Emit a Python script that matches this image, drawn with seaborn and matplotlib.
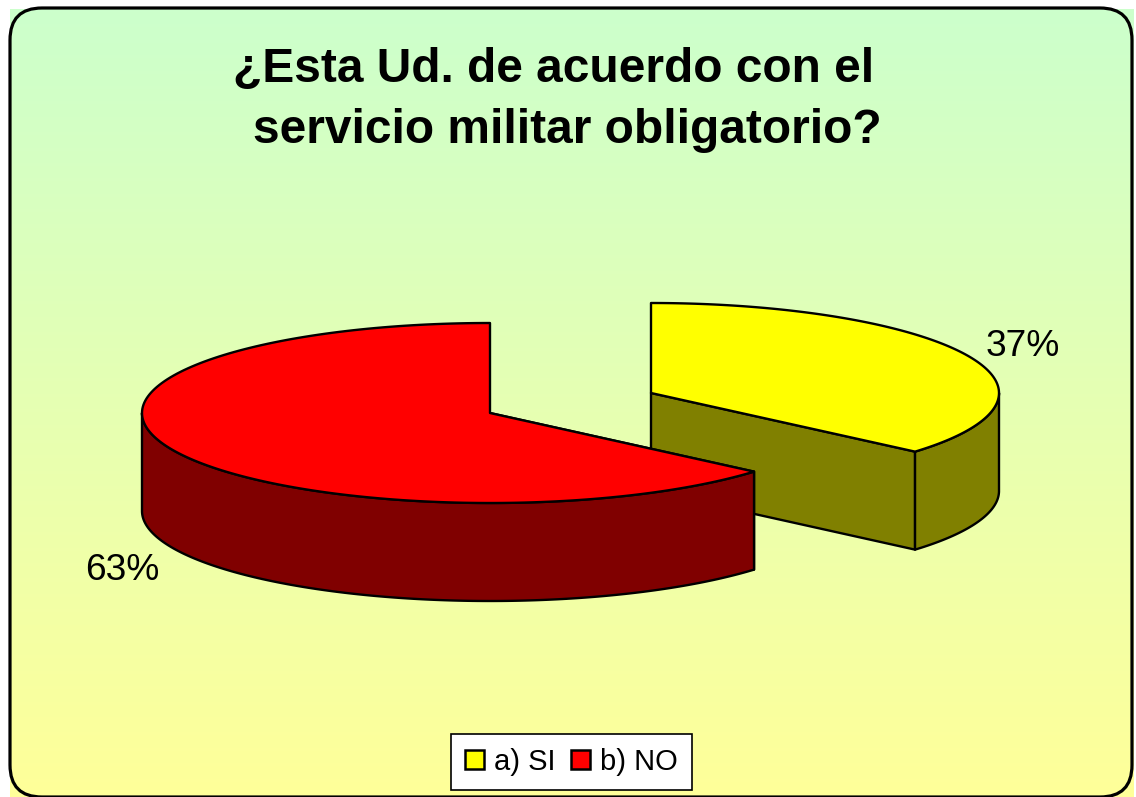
import numpy as np
import seaborn as sns
import matplotlib
matplotlib.use("Agg")
import matplotlib.pyplot as plt
from matplotlib.patches import Polygon, Patch, FancyBboxPatch

categories = ["a) SI", "b) NO"]
shares = [37, 63]
share_labels = ["37%", "63%"]
title_lines = ["¿Esta Ud. de acuerdo con el", "servicio militar obligatorio?"]

top_colors = sns.color_palette(["#FFFF00", "#FF0000"])
wall_colors = sns.color_palette(["#808000", "#800000"])

sns.set_theme(style="white")
plt.rcParams["font.family"] = ["Liberation Sans", "DejaVu Sans"]

fig = plt.figure(figsize=(11.36, 7.97), dpi=100, facecolor="white")
ax = fig.add_axes([0, 0, 1, 1])
ax.set_xlim(0, 1136)
ax.set_ylim(797, 0)
ax.axis("off")

# gradient background
cmap = sns.blend_palette(["#CCFFCC", "#FFFF99"], 256, as_cmap=True)
ax.imshow(np.linspace(0, 1, 256)[:, None], cmap=cmap, aspect="auto",
          extent=(10, 1134, 797, 9), zorder=0)
ax.set_xlim(0, 1136)
ax.set_ylim(797, 0)
ax.add_patch(FancyBboxPatch((41, 39), 1060, 727, boxstyle="round,pad=31,rounding_size=32",
                            fc="none", ec="black", lw=2.3, zorder=1))

A, B, DEPTH = 348.0, 90.0, 98.0


def warp(theta):
    return theta - np.radians(3.5) * np.sin(theta)


def rim(cx, cy, t0, t1, n=180):
    t = np.linspace(t0, t1, n)
    return np.column_stack([cx + A * np.sin(t), cy - B * np.cos(t)])


def draw_slice(cx, cy, t0, t1, top, wall, z):
    edge = dict(ec="black", lw=1.7, joinstyle="round")
    drop = np.array([0, DEPTH])
    # cut faces
    for t in (t0, t1):
        p = rim(cx, cy, t, t, 1)[0]
        c = np.array([cx, cy])
        if p[1] >= cy - 1e-6 or np.sin(t) > 0:
            ax.add_patch(Polygon([c, p, p + drop, c + drop], fc=wall, zorder=z, **edge))
    # outer wall: front half of the rim only
    lo, hi = max(t0, np.pi / 2), min(t1, 3 * np.pi / 2)
    r = rim(cx, cy, lo, hi)
    ax.add_patch(Polygon(np.vstack([r, (r + drop)[::-1]]), fc=wall, zorder=z + 0.1, **edge))
    # top
    ax.add_patch(Polygon(np.vstack([[cx, cy], rim(cx, cy, t0, t1)]), fc=top, zorder=z + 0.2, **edge))


boundary = warp(2 * np.pi * shares[0] / sum(shares))
# yellow slice: clockwise from 12 o'clock
draw_slice(651, 393, 0, boundary, top_colors[0], wall_colors[0], 2)
# red slice: the remainder of the circle, ending at 12 o'clock
draw_slice(490, 413, boundary, 2 * np.pi, top_colors[1], wall_colors[1], 3)

ax.text(1022.5, 346, share_labels[0], fontsize=26.7, color="black", ha="center", va="center", zorder=5)
ax.text(122, 570, share_labels[1], fontsize=26.7, color="black", ha="center", va="center", zorder=5)

ax.text(553.5, 69, title_lines[0], fontsize=34.5, fontweight="bold", color="black",
        ha="center", va="center", zorder=5)
ax.text(567, 130, title_lines[1], fontsize=34.5, fontweight="bold", color="black",
        ha="center", va="center", zorder=5)

handles = [Patch(fc=c, ec="black", lw=1.8) for c in top_colors]
leg = ax.legend(handles, categories, loc="center", bbox_to_anchor=(571.5, 762),
                bbox_transform=ax.transData, ncol=2, fontsize=21, frameon=True,
                fancybox=False, edgecolor="black", framealpha=1, facecolor="white",
                labelcolor="black",
                handlelength=0.65, handleheight=0.62, handletextpad=0.34, columnspacing=0.55,
                borderpad=0.47, borderaxespad=0)
leg.get_frame().set_linewidth(1.2)
leg.set_zorder(6)

fig.savefig("out.png", dpi=100)
